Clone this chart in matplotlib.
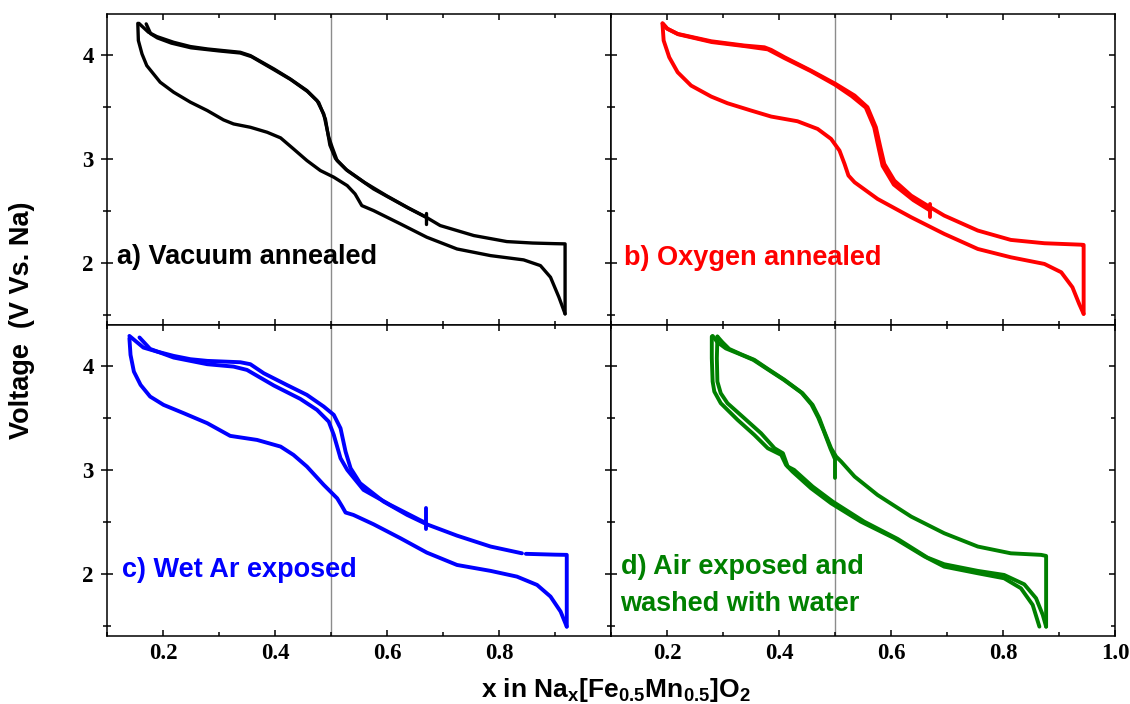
import numpy as np
import matplotlib
matplotlib.use("Agg")
import matplotlib.pyplot as plt
from matplotlib.ticker import MultipleLocator, FuncFormatter

# ---------------- data: x in Na_x[Fe0.5Mn0.5]O2 vs voltage (V vs Na) ----------------
# a) vacuum annealed
a_charge_x = [0.918, 0.918, 0.900, 0.860, 0.814, 0.755, 0.695, 0.670, 0.636, 0.576, 0.529, 0.511,
              0.502, 0.496, 0.487, 0.475, 0.457, 0.427, 0.398, 0.356, 0.338, 0.308, 0.279, 0.249,
              0.219, 0.189, 0.174, 0.157]
a_charge_v = [1.507, 2.180, 2.182, 2.188, 2.202, 2.260, 2.356, 2.436, 2.530, 2.708, 2.885, 2.980,
              3.110, 3.205, 3.430, 3.558, 3.654, 3.766, 3.862, 3.990, 4.022, 4.038, 4.054, 4.077,
              4.118, 4.173, 4.215, 4.300]
a_first_x = [0.670, 0.640, 0.600, 0.560, 0.527, 0.508, 0.498, 0.490, 0.478, 0.458, 0.428, 0.398,
             0.358, 0.338, 0.300, 0.250, 0.215, 0.190, 0.178, 0.170]
a_first_v = [2.436, 2.520, 2.640, 2.770, 2.895, 3.000, 3.130, 3.380, 3.540, 3.645, 3.760, 3.855,
             3.980, 4.015, 4.035, 4.065, 4.110, 4.160, 4.200, 4.295]
a_ocv_x = [0.670, 0.670]
a_ocv_v = [2.375, 2.480]
a_dis_x = [0.155, 0.156, 0.1625, 0.171, 0.195, 0.219, 0.249, 0.279, 0.308, 0.326, 0.356, 0.386,
           0.410, 0.433, 0.457, 0.481, 0.505, 0.529, 0.543, 0.555, 0.576, 0.624, 0.671, 0.725,
           0.785, 0.844, 0.874, 0.892, 0.907, 0.918]
a_dis_v = [4.300, 4.135, 4.006, 3.894, 3.734, 3.638, 3.542, 3.462, 3.372, 3.333, 3.301, 3.253,
           3.199, 3.093, 2.981, 2.885, 2.821, 2.740, 2.660, 2.548, 2.500, 2.372, 2.244, 2.131,
           2.067, 2.026, 1.971, 1.859, 1.667, 1.507]

# b) oxygen annealed
b_charge_x = [0.944, 0.944, 0.940, 0.874, 0.814, 0.755, 0.695, 0.670, 0.636, 0.606, 0.588, 0.581,
              0.573, 0.558, 0.535, 0.501, 0.457, 0.410, 0.386, 0.374, 0.338, 0.279, 0.219, 0.201,
              0.192]
b_charge_v = [1.507, 2.170, 2.172, 2.186, 2.218, 2.308, 2.452, 2.532, 2.644, 2.788, 2.949, 3.109,
              3.301, 3.494, 3.606, 3.718, 3.846, 3.974, 4.045, 4.070, 4.087, 4.128, 4.199, 4.247,
              4.300]
b_first_x = [0.670, 0.640, 0.605, 0.585, 0.578, 0.570, 0.555, 0.530, 0.500, 0.457, 0.410, 0.380,
             0.340, 0.280, 0.220, 0.200, 0.192]
b_first_v = [2.500, 2.600, 2.750, 2.930, 3.100, 3.300, 3.490, 3.600, 3.710, 3.840, 3.965, 4.050,
             4.080, 4.120, 4.195, 4.250, 4.300]
b_ocv_x = [0.670, 0.670]
b_ocv_v = [2.436, 2.560]
b_dis_x = [0.192, 0.194, 0.204, 0.219, 0.243, 0.279, 0.308, 0.350, 0.386, 0.433, 0.469, 0.493,
           0.508, 0.517, 0.524, 0.535, 0.576, 0.636, 0.695, 0.755, 0.814, 0.874, 0.904, 0.924,
           0.936, 0.944]
b_dis_v = [4.290, 4.135, 3.974, 3.830, 3.702, 3.596, 3.532, 3.462, 3.404, 3.359, 3.285, 3.189,
           3.077, 2.949, 2.837, 2.772, 2.612, 2.436, 2.276, 2.131, 2.051, 1.987, 1.907, 1.763,
           1.603, 1.507]

# c) wet Ar exposed
c_charge_x = [0.921, 0.921, 0.900, 0.848, np.nan, 0.841, 0.785, 0.725, 0.671, 0.636, 0.594, 0.552,
              0.535, 0.526, 0.517, 0.505, 0.487, 0.457, 0.421, 0.380, 0.356, 0.338, 0.279, 0.249,
              0.219, 0.189, 0.165, 0.140]
c_charge_v = [1.490, 2.180, 2.182, 2.190, np.nan, 2.195, 2.260, 2.365, 2.474, 2.564, 2.692, 2.869,
              3.013, 3.173, 3.397, 3.526, 3.606, 3.718, 3.814, 3.926, 4.013, 4.032, 4.045, 4.061,
              4.093, 4.135, 4.173, 4.285]
c_first_x = [0.670, 0.606, 0.558, 0.529, 0.517, 0.505, 0.496, 0.475, 0.445, 0.398, 0.350, 0.326,
             0.279, 0.219, 0.177, 0.158]
c_first_v = [2.484, 2.660, 2.805, 2.997, 3.109, 3.333, 3.461, 3.574, 3.680, 3.808, 3.958, 3.990,
             4.013, 4.077, 4.160, 4.270]
c_ocv_x = [0.670, 0.670]
c_ocv_v = [2.430, 2.630]
c_dis_x = [0.140, 0.142, 0.148, 0.160, 0.177, 0.201, 0.237, 0.279, 0.320, 0.368, 0.410, 0.433,
           0.457, 0.487, 0.511, 0.520, 0.526, 0.540, 0.576, 0.624, 0.671, 0.725, 0.785, 0.832,
           0.868, 0.892, 0.910, 0.921]
c_dis_v = [4.263, 4.103, 3.942, 3.814, 3.702, 3.622, 3.542, 3.446, 3.324, 3.285, 3.221, 3.141,
           3.029, 2.853, 2.724, 2.644, 2.587, 2.564, 2.474, 2.340, 2.202, 2.083, 2.026, 1.971,
           1.891, 1.779, 1.635, 1.490]

# d) air exposed and washed with water
d_charge_x = [0.877, 0.877, 0.868, 0.814, 0.755, 0.695, 0.636, 0.576, 0.535, 0.511, 0.502, 0.493,
              0.481, 0.472, 0.460, 0.442, 0.410, 0.380, 0.356, 0.332, 0.311, 0.299, 0.290]
d_charge_v = [1.490, 2.170, 2.180, 2.195, 2.260, 2.388, 2.548, 2.756, 2.933, 3.077, 3.125, 3.205,
              3.365, 3.494, 3.622, 3.734, 3.862, 3.968, 4.055, 4.109, 4.160, 4.224, 4.279]
d_first_x = [0.500, 0.500, 0.492, 0.480, 0.470, 0.458, 0.440, 0.408, 0.378, 0.354, 0.330, 0.305,
             0.290, 0.2815]
d_first_v = [2.920, 3.100, 3.200, 3.370, 3.500, 3.625, 3.740, 3.865, 3.970, 4.055, 4.110, 4.165,
             4.225, 4.285]
d_dis_x = [0.280, 0.280, 0.2815, 0.2845, 0.296, 0.326, 0.356, 0.380, 0.404, 0.4125, 0.424, 0.457,
           0.493, 0.546, 0.606, 0.660, 0.695, 0.755, 0.802, 0.832, 0.853, 0.865]
d_dis_v = [4.279, 4.070, 3.846, 3.750, 3.638, 3.478, 3.333, 3.205, 3.141, 3.045, 2.981, 2.821,
           2.676, 2.500, 2.340, 2.164, 2.067, 2.003, 1.955, 1.859, 1.699, 1.490]
d_dis2_x = [0.290, 0.289, 0.290, 0.296, 0.308, 0.338, 0.368, 0.392, 0.407, 0.4155, 0.427, 0.460,
            0.496, 0.552, 0.612, 0.665, 0.695, 0.755, 0.802, 0.838, 0.859, 0.871, 0.877]
d_dis2_v = [4.279, 4.070, 3.846, 3.734, 3.638, 3.494, 3.349, 3.205, 3.157, 3.029, 2.997, 2.837,
            2.692, 2.500, 2.333, 2.154, 2.090, 2.026, 1.987, 1.897, 1.763, 1.603, 1.490]

panel_labels = ["a) Vacuum annealed", "b) Oxygen annealed", "c) Wet Ar exposed",
                "d) Air exposed and\nwashed with water"]
panel_colors = ["#000000", "#ff0000", "#0000ff", "#008000"]
# anchor of each label: left edge and baseline of its last line
label_pos = [(0.118, 1.987), (0.124, 1.980), (0.127, 1.971), (0.117, 1.641)]
x_ticklabels_left = ["0.2", "0.4", "0.6", "0.8"]
x_ticklabels_right = ["0.2", "0.4", "0.6", "0.8", "1.0"]

# ---------------- styling ----------------
plt.rcParams["font.family"] = ["Liberation Serif", "DejaVu Serif"]
plt.rcParams["font.weight"] = "bold"
plt.rcParams["mathtext.fontset"] = "custom"
plt.rcParams["mathtext.rm"] = "Liberation Sans:bold"
plt.rcParams["mathtext.it"] = "Liberation Sans:bold"
plt.rcParams["mathtext.bf"] = "Liberation Sans:bold"
plt.rcParams["mathtext.sf"] = "Liberation Sans:bold"

W, H = 1130, 704
fig = plt.figure(figsize=(W / 100, H / 100), dpi=100)

x0, xm, x1 = 107 / W, 611 / W, 1115 / W
yt, ym, yb = 1 - 14 / H, 1 - 325 / H, 1 - 636 / H
boxes = [
    [x0, ym, xm - x0, yt - ym],
    [xm, ym, x1 - xm, yt - ym],
    [x0, yb, xm - x0, ym - yb],
    [xm, yb, x1 - xm, ym - yb],
]
axes = [fig.add_axes(b) for b in boxes]

panels = [
    [(a_charge_x, a_charge_v), (a_first_x, a_first_v), (a_ocv_x, a_ocv_v), (a_dis_x, a_dis_v)],
    [(b_charge_x, b_charge_v), (b_first_x, b_first_v), (b_ocv_x, b_ocv_v), (b_dis_x, b_dis_v)],
    [(c_charge_x, c_charge_v), (c_first_x, c_first_v), (c_ocv_x, c_ocv_v), (c_dis_x, c_dis_v)],
    [(d_charge_x, d_charge_v), (d_first_x, d_first_v), (d_dis_x, d_dis_v), (d_dis2_x, d_dis2_v)],
]
line_widths = [2.4, 2.8, 2.8, 2.8]

for i, ax in enumerate(axes):
    left_col = i in (0, 2)
    bottom_row = i in (2, 3)
    ax.set_xlim(0.1, 1.0)
    ax.set_ylim(1.4, 4.39)
    ax.axvline(0.5, color="#8c8c8c", lw=1.0, zorder=1)
    for xs, vs in panels[i]:
        ax.plot(xs, vs, color=panel_colors[i], lw=line_widths[i],
                solid_joinstyle="round", solid_capstyle="round", zorder=3)
    ax.text(label_pos[i][0], label_pos[i][1], panel_labels[i], color=panel_colors[i],
            family="Liberation Sans", fontweight="bold", fontsize=19.5,
            ha="left", va="baseline", linespacing=1.55, zorder=4)

    ax.xaxis.set_major_locator(MultipleLocator(0.2))
    ax.xaxis.set_minor_locator(MultipleLocator(0.1))
    ax.yaxis.set_major_locator(MultipleLocator(1.0))
    ax.yaxis.set_minor_locator(MultipleLocator(0.5))
    labels = x_ticklabels_left if left_col else x_ticklabels_right
    ax.xaxis.set_major_formatter(FuncFormatter(
        lambda v, p, labels=labels: f"{v:.1f}" if f"{v:.1f}" in labels else ""))
    ax.yaxis.set_major_formatter(FuncFormatter(lambda v, p: f"{v:.0f}"))

    ax.tick_params(axis="x", which="both", direction="in", top=True, bottom=True,
                   labelbottom=bottom_row, width=1.1, labelsize=16.5, pad=5)
    ax.tick_params(axis="x", which="major", length=4.5)
    ax.tick_params(axis="x", which="minor", length=2.6)
    ax.tick_params(axis="y", which="both", direction="inout" if left_col else "in",
                   left=True, right=True, labelleft=left_col, width=1.1,
                   labelsize=16.5, pad=5)
    ax.tick_params(axis="y", which="major", length=9.0 if left_col else 4.5)
    ax.tick_params(axis="y", which="minor", length=5.5 if left_col else 2.6)
    for s in ax.spines.values():
        s.set_linewidth(1.1)

fig.text(22 / W, 1 - 320 / H, "Voltage  (V Vs. Na)", rotation=90, ha="center", va="center",
         family="Liberation Sans", fontweight="bold", fontsize=19.5)
fig.text(616 / W, 1 - 697 / H,
         r"x in Na$_\mathrm{x}$[Fe$_\mathrm{0.5}$Mn$_\mathrm{0.5}$]O$_\mathrm{2}$",
         ha="center", va="baseline", family="Liberation Sans", fontweight="bold", fontsize=19)

fig.savefig("out.png", dpi=100)
